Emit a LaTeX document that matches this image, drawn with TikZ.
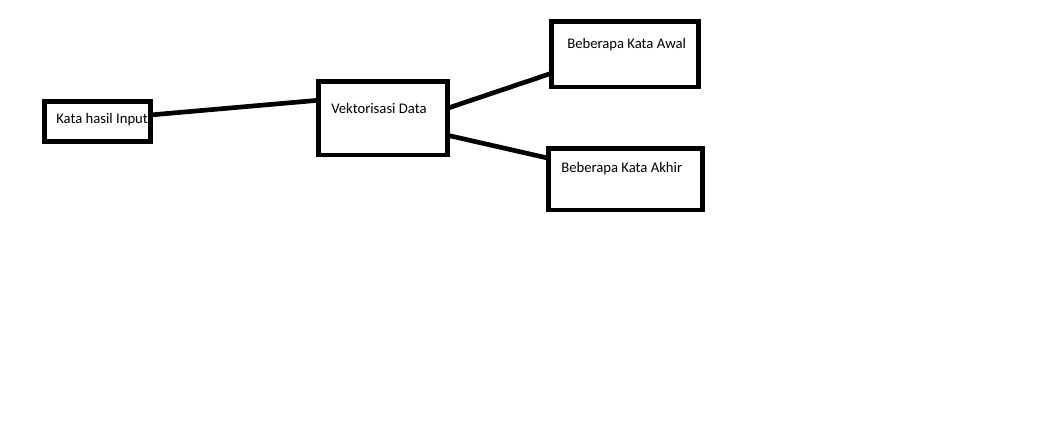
\documentclass[tikz,border=0pt]{standalone}
\usepackage{fontspec}
\setmainfont{Carlito}
\begin{document}
\begin{tikzpicture}[x=0.75pt,y=-0.75pt,
    box/.style={draw, line width=3.5pt, inner sep=0pt, outer sep=0pt},
    lbl/.style={anchor=base west, inner sep=0pt, font=\fontsize{11}{13}\selectfont},
    link/.style={line width=3.5pt}]
    \fill[white](0,0)rectangle(1054,424);
    \useasboundingbox(0,0)rectangle(1054,424);
    % boxes
    \node[box, minimum width=79.5pt, minimum height=30pt] (input) at (97.5,121.5) {};
    \node[box, minimum width=96.75pt, minimum height=55pt] (vek) at (383,118.25) {};
    \node[box, minimum width=110.25pt, minimum height=49pt] (awal) at (625,54.25) {};
    \node[box, minimum width=115.5pt, minimum height=46pt] (akhir) at (625.5,179.25) {};
    % texts
    \node[lbl] (input-t) at (56,124) {Kata hasil Input};
    \node[lbl] (vek-t) at (331,114) {Vektorisasi Data};
    \node[lbl] (awal-t) at (567,49) {Beberapa Kata Awal};
    \node[lbl] (akhir-t) at (561,173) {Beberapa Kata Akhir};
    % links
    \draw[link]([yshift=4.9pt]input.east)--([yshift=13.5pt]vek.west);
    \draw[link]([yshift=7.5pt]vek.east)--([yshift=-14.25pt]awal.west);
    \draw[link]([yshift=-12.75pt]vek.east)--([yshift=15.75pt]akhir.west);
\end{tikzpicture}
\end{document}
